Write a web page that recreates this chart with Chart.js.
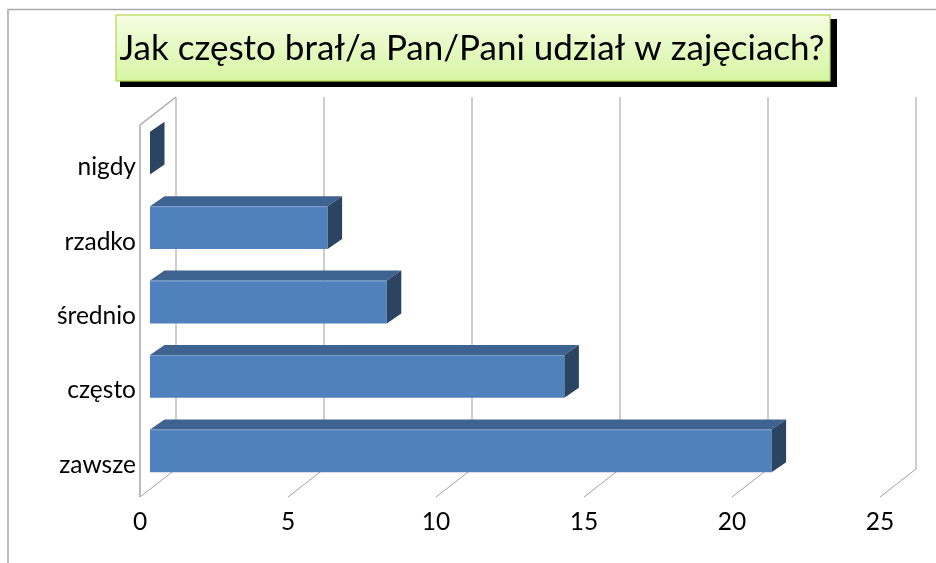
<!DOCTYPE html>
<html><head><meta charset="utf-8">
<style>html,body{margin:0;padding:0;background:#fff}#w{width:936px;height:563px;position:relative}</style>
<script src="https://cdn.jsdelivr.net/npm/chart.js@4/dist/chart.umd.js"></script>
</head><body><div id="w"><canvas id="c" width="936" height="563"></canvas></div>
<script>
const titleText = 'Jak często brał/a Pan/Pani udział w zajęciach?';
const categories = ['nigdy','rzadko','średnio','często','zawsze'];
const values = [0,6,8,14,21];
const xTicks = [0,5,10,15,20,25];
const FONT = 'Lato';
const wall = {dx:36, dy:-28};
const barShift = {dx:10, dy:-9};
const depth = {dx:14.5, dy:-10};

const scene = {
  id:'scene',
  afterLayout(chart){
    const t=chart.titleBlock;
    t.left=116; t.right=828;
  },
  beforeDraw(chart){
    const c = chart.ctx;
    c.save();
    c.fillStyle='#fff'; c.fillRect(0,0,chart.width,chart.height);
    c.strokeStyle='#a8a8a8'; c.lineWidth=1.5;
    c.beginPath(); c.moveTo(8,563); c.lineTo(8,9.5); c.lineTo(936,9.5); c.stroke();
    c.fillStyle='#000'; c.fillRect(120,19,717,68);
    const g=c.createLinearGradient(0,15,0,81);
    g.addColorStop(0,'#f5fde3'); g.addColorStop(1,'#d6f5a2');
    c.fillStyle=g; c.fillRect(116,15,714,66);
    c.strokeStyle='#b2d84f'; c.lineWidth=1.2; c.strokeRect(116,15,714,66);
    c.restore();
  },
  beforeDatasetsDraw(chart){
    const c=chart.ctx, a=chart.chartArea, xs=chart.scales.x;
    c.save();
    xs.ticks.forEach((t,i)=>{
      const x=xs.getPixelForTick(i);
      c.strokeStyle='#bdbdbd'; c.lineWidth=1.5;
      c.beginPath(); c.moveTo(x+wall.dx,a.top+wall.dy); c.lineTo(x+wall.dx,a.bottom+wall.dy); c.stroke();
      c.strokeStyle='#a0a0a0'; c.lineWidth=1;
      c.beginPath(); c.moveTo(x,a.bottom); c.lineTo(x+wall.dx,a.bottom+wall.dy); c.stroke();
    });
    const x0=xs.getPixelForValue(0);
    c.strokeStyle='#a8a8a8'; c.lineWidth=1.5;
    c.beginPath(); c.moveTo(x0,a.bottom); c.lineTo(x0,a.top); c.lineTo(x0+wall.dx,a.top+wall.dy); c.stroke();
    c.restore();
    c.save();
    c.translate(barShift.dx,barShift.dy);
  },
  afterDatasetsDraw(chart){
    const c=chart.ctx;
    chart.getDatasetMeta(0).data.forEach(b=>{
      const top=b.y-b.height/2, bot=b.y+b.height/2, xl=b.base, xr=b.x;
      if(xr>xl){
        c.fillStyle='#3e6390';
        c.beginPath(); c.moveTo(xl,top); c.lineTo(xl+depth.dx,top+depth.dy); c.lineTo(xr+depth.dx,top+depth.dy); c.lineTo(xr,top); c.closePath(); c.fill();
        c.strokeStyle='#7f9fc8'; c.lineWidth=1;
        c.beginPath(); c.moveTo(xl,top+.5); c.lineTo(xr,top+.5); c.stroke();
      }
      c.fillStyle='#2a4462';
      c.beginPath(); c.moveTo(xr,top); c.lineTo(xr+depth.dx,top+depth.dy); c.lineTo(xr+depth.dx,bot+depth.dy); c.lineTo(xr,bot); c.closePath(); c.fill();
    });
    c.restore();
  }
};

new Chart(document.getElementById('c'),{
  type:'bar',
  data:{labels:categories,datasets:[{data:values,backgroundColor:'#4f81bd',borderWidth:0,barPercentage:0.575,categoryPercentage:1}]},
  plugins:[scene],
  options:{
    indexAxis:'y',responsive:false,animation:false,
    layout:{padding:{left:10,right:56,top:15,bottom:0}},
    plugins:{legend:{display:false},tooltip:{enabled:false},
      title:{display:true,text:titleText,color:'#000',font:{family:FONT,size:35,weight:'normal',lineHeight:1.2},padding:{top:13,bottom:55}}},
    scales:{
      x:{min:0,max:25,afterBuildTicks(s){s.ticks=xTicks.map(v=>({value:v}));},
        grid:{display:false},border:{display:false},
        ticks:{color:'#000',font:{family:FONT,size:24.5},padding:2,maxRotation:0,autoSkip:false},
        afterFit(s){s.height=66;}},
      y:{grid:{display:false,drawTicks:false},border:{display:false},
        ticks:{color:'#000',font:{family:FONT,size:24.5},padding:4,autoSkip:false,labelOffset:5},
        afterFit(s){s.width=130;}}
    }
  }
});
</script></body></html>
